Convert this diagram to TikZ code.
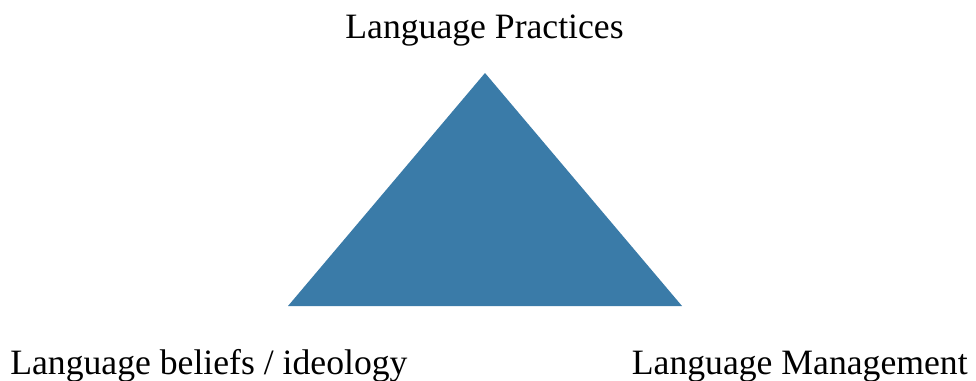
\documentclass[tikz,border=0pt]{standalone}
\usepackage{fontspec}
\setmainfont{Liberation Serif}
\usepackage{xcolor}
\usetikzlibrary{positioning}

\definecolor{triblue}{HTML}{3A7BA8}

\begin{document}
\begin{tikzpicture}[x=0.02cm, y=0.02cm,
	label text/.style={font=\fontsize{20.3}{24}\selectfont, inner sep=0pt, anchor=base}]
	\useasboundingbox (0, 0) rectangle (976, 380);

	\fill[triblue] (485, 307) -- (288, 74) -- (682, 74) -- cycle;  % triangle

	\node[label text] (practices) at (484.5, 341.5) {Language Practices};
	\node[label text, anchor=base west] (beliefs) at (10, 5.5) {Language beliefs / ideology};
	\node[label text, anchor=base east] (management) at (968, 5.5) {Language Management};

\end{tikzpicture}
\end{document}
